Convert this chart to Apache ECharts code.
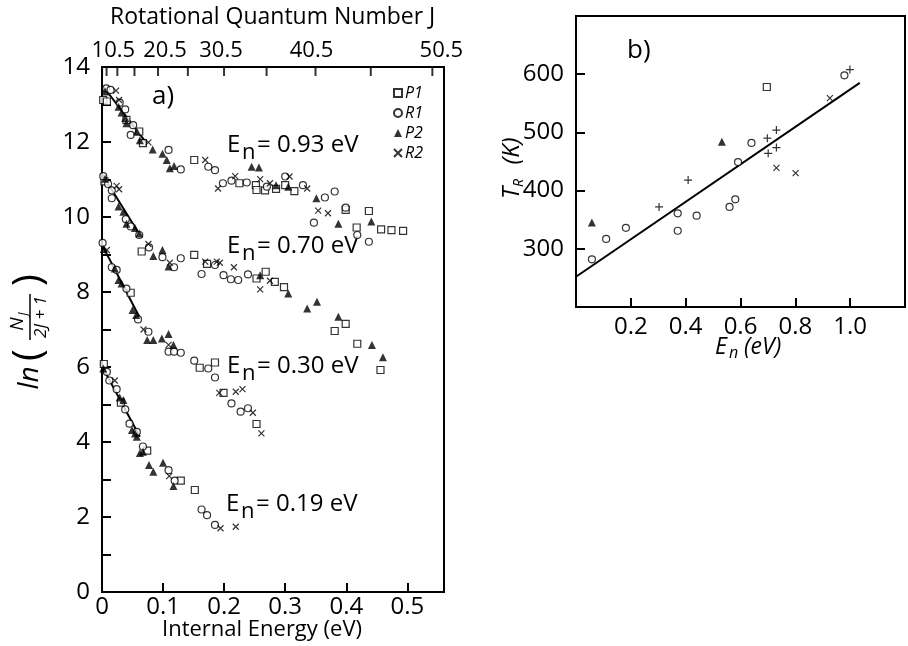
<!DOCTYPE html>
<html><head><meta charset="utf-8">
<script src="https://cdn.jsdelivr.net/npm/echarts@6/dist/echarts.min.js"></script>
<style>html,body{margin:0;padding:0;background:#fff}#c{width:908px;height:646px}</style>
</head><body><div id="c"></div>
<script>
// ---------- Panel a data: [internal energy (eV), ln(NJ/(2J+1))] ----------
const P1 = [
 // En = 0.93 eV
 [0.002,13.12],[0.008,13.08],[0.040,12.59],[0.061,12.28],[0.067,11.97],[0.151,11.52],[0.225,10.90],[0.252,10.85],[0.253,10.72],[0.267,10.71],[0.285,10.75],[0.300,10.85],[0.315,10.69],[0.399,10.19],[0.417,9.72],[0.437,10.16],[0.457,9.67],[0.474,9.65],[0.493,9.63],
 // En = 0.70 eV
 [0.004,10.95],[0.065,9.08],[0.151,8.99],[0.172,8.75],[0.253,8.36],[0.268,8.54],[0.283,8.27],[0.298,8.13],[0.381,6.96],[0.399,7.15],[0.418,6.62],[0.456,5.92],
 // En = 0.30 eV
 [0.047,7.98],[0.160,5.98],[0.185,6.12],[0.199,5.31],[0.253,4.48],
 // En = 0.19 eV
 [0.003,6.08],[0.031,5.05],[0.074,3.77],[0.129,2.97],[0.152,2.72]
];
const R1 = [
 [0.007,13.43],[0.014,13.39],[0.029,13.05],[0.038,12.87],[0.051,12.45],[0.047,12.19],[0.109,11.79],[0.129,11.27],[0.174,11.34],[0.185,11.25],[0.198,10.90],[0.212,10.97],[0.237,10.92],[0.270,10.81],[0.300,11.08],[0.329,10.85],[0.365,10.52],[0.381,10.68],[0.347,9.85],[0.399,10.25],[0.418,9.52],[0.437,9.34],
 [0.002,11.09],[0.010,10.88],[0.016,10.71],[0.016,10.50],[0.039,9.94],[0.047,9.75],[0.061,9.52],[0.077,9.19],[0.099,8.93],[0.118,8.66],[0.129,8.90],[0.163,8.48],[0.185,8.72],[0.199,8.45],[0.211,8.34],[0.223,8.32],[0.239,8.47],
 [0.001,9.31],[0.016,8.66],[0.024,8.59],[0.040,8.09],[0.059,7.27],[0.076,6.94],[0.109,6.41],[0.118,6.41],[0.129,6.38],[0.151,6.17],[0.174,5.96],[0.185,5.72],[0.212,5.03],[0.227,4.81],[0.239,4.90],
 [0.008,5.87],[0.012,5.64],[0.024,5.41],[0.038,4.87],[0.045,4.49],[0.057,4.27],[0.067,3.88],[0.109,3.25],[0.119,2.97],[0.163,2.20],[0.172,2.05],[0.185,1.79]
];
const P2 = [
 [0.005,13.35],[0.027,12.94],[0.032,12.79],[0.038,12.64],[0.040,12.50],[0.057,12.28],[0.062,12.05],[0.083,11.80],[0.099,11.69],[0.106,11.52],[0.111,11.30],[0.118,11.36],[0.245,11.34],[0.257,11.32],[0.285,10.85],[0.305,10.81],[0.351,10.50],[0.387,9.82],[0.441,9.88],
 [0.005,11.02],[0.027,10.28],[0.035,10.14],[0.040,9.82],[0.054,9.71],[0.061,9.56],[0.084,8.96],[0.099,9.12],[0.109,8.68],[0.259,8.45],[0.305,7.96],[0.336,7.56],[0.352,7.74],[0.387,7.34],[0.442,6.59],[0.460,6.26],
 [0.003,9.15],[0.021,8.63],[0.027,8.32],[0.032,8.23],[0.050,7.52],[0.056,7.39],[0.074,6.72],[0.084,6.72],[0.098,6.76],[0.109,6.88],[0.117,6.59],
 [0.002,5.96],[0.029,5.19],[0.035,5.12],[0.049,4.32],[0.054,4.23],[0.057,4.14],[0.062,3.71],[0.067,3.74],[0.077,3.39],[0.084,3.21],[0.100,3.45],[0.117,2.83]
];
const R2 = [
 [0.023,13.37],[0.028,13.12],[0.076,11.99],[0.169,11.52],[0.190,10.76],[0.218,11.09],[0.259,11.01],[0.275,10.90],[0.307,11.08],[0.336,10.76],[0.354,10.17],[0.370,10.10],
 [0.024,10.83],[0.028,10.74],[0.076,9.28],[0.111,8.78],[0.169,8.81],[0.188,8.81],[0.193,8.78],[0.216,8.66],[0.259,8.07],[0.275,8.30],
 [0.008,9.12],[0.068,7.00],[0.109,6.59],[0.192,5.31],[0.219,5.34],[0.230,5.41],[0.247,4.78],[0.261,4.23],
 [0.021,5.64],[0.110,3.09],[0.194,1.70],[0.219,1.74]
];
// straight-line fits of the low-J part of each distribution
const fit093 = [[0.002,13.48],[0.073,11.97]];
const fit070 = [[0.001,11.12],[0.062,9.52]];
const fit030 = [[0.001,9.23],[0.061,7.34]];
const fit019 = [[0.001,5.99],[0.062,4.14]];
const energyLabels = ['0.93','0.70','0.30','0.19'];

// top axis: rotational quantum number J (E = B J(J+1))
const B_eV = 2.08e-4;
const jTickValues = [0.5,5.5,10.5,15.5,20.5,25.5,30.5,35.5,40.5,45.5,50.5];
const jLabelValues = [10.5,20.5,30.5,40.5,50.5];
const jLabelShift = {'10.5':-4, '20.5':7, '30.5':-3, '40.5':-4, '50.5':9};

// ---------- Panel b data: [En (eV), T_R (K)] ----------
const bCircle = [[0.058,282],[0.110,317],[0.182,336],[0.371,361],[0.371,331],[0.440,357],[0.560,372],[0.581,385],[0.591,449],[0.640,482],[0.979,598]];
const bTriangle = [[0.058,345],[0.532,484]];
const bSquare = [[0.696,578]];
const bPlus = [[0.303,372],[0.409,418],[0.698,490],[0.701,464],[0.731,504],[0.731,474],[0.999,608]];
const bCross = [[0.731,439],[0.801,430],[0.926,559]];
const bFit = [[0,252],[1.035,585]];

const FONT = '"Open Sans", "Noto Sans", sans-serif';
const CROSS = 'path://M0,0L10,10M10,0L0,10';
const PLUS = 'path://M5,0L5,10M0,5L10,5';
const J2E = J => B_eV * J * (J + 1);
const E2J = E => (-1 + Math.sqrt(1 + 4 * E / B_eV)) / 2;

const open = {color:'#fff', borderColor:'#000', borderWidth:1.2};
const filled = {color:'#000'};
const stroke = {color:'transparent', borderColor:'#000', borderWidth:1.2};

function sc(name, data, symbol, size, style, xi, yi){
  return {type:'scatter', name, data, symbol, symbolSize:size, itemStyle:style,
    xAxisIndex:xi, yAxisIndex:yi, z:3, animation:false, emphasis:{disabled:true}};
}
function ln(data, xi, yi){
  return {type:'line', data, xAxisIndex:xi, yAxisIndex:yi, symbol:'none',
    lineStyle:{color:'#000', width:2}, z:2, animation:false, silent:true};
}

const axisLbl = {color:'#000', fontFamily:FONT, fontSize:24};

function enLabel(x, y, val){
  return [
    {type:'text', left:x, top:y, style:{text:'E', font:'24px '+FONT, fill:'#000'}},
    {type:'text', left:x+15, top:y+9, style:{text:'n', font:'22px '+FONT, fill:'#000'}},
    {type:'text', left:x+30, top:y, style:{text:'= '+val+' eV', font:'24px '+FONT, fill:'#000'}}
  ];
}

// rich styles for shifting top labels
const topRich = {};
for (const k in jLabelShift) {
  const s = jLabelShift[k];
  topRich['j' + k.replace('.', '_')] = {fontFamily:FONT, fontSize:22, color:'#000',
    padding: s >= 0 ? [0,0,0,2*s] : [0,-2*s,0,0]};
}

const chart = echarts.init(document.getElementById('c'), null, {renderer:'canvas'});
chart.setOption({
  backgroundColor:'#fff',
  animation:false,
  grid:[
    {left:102, top:67, width:342, height:525, show:true, borderColor:'#000', borderWidth:2, backgroundColor:'transparent'},
    {left:576, top:16, width:342, height:291, show:true, borderColor:'#000', borderWidth:2, backgroundColor:'transparent'}
  ],
  xAxis:[
    {gridIndex:0, type:'value', min:0, max:0.56, interval:0.1,
     axisLine:{show:true, lineStyle:{color:'#000', width:2}},
     axisTick:{show:true, inside:true, length:9, lineStyle:{color:'#000', width:2}},
     splitLine:{show:false},
     axisLabel:{...axisLbl, margin:3, showMaxLabel:false,
       formatter:v => (Math.abs(v-Math.round(v*10)/10)<1e-6 && v<=0.5001) ? (v===0?'0':v.toFixed(1)) : ''}},
    {gridIndex:0, type:'value', position:'top', min:0, max:0.56,
     axisLine:{show:true, lineStyle:{color:'#000', width:2}},
     axisTick:{show:false},
     splitLine:{show:false},
     axisLabel:{...axisLbl, fontSize:22, margin:5, hideOverlap:false, showMinLabel:true, showMaxLabel:true,
       customValues: jLabelValues.map(J2E), rich: topRich,
       formatter:v => { const j = E2J(v).toFixed(1); return '{j' + j.replace('.', '_') + '|' + j + '}'; }}},
    {gridIndex:1, type:'value', min:0, max:1.2, interval:0.2,
     axisLine:{show:true, lineStyle:{color:'#000', width:2}},
     axisTick:{show:true, inside:true, length:9, lineStyle:{color:'#000', width:2}},
     splitLine:{show:false},
     axisLabel:{...axisLbl, margin:8, formatter:v => (v>0.01 && v<1.1) ? v.toFixed(1) : ''}}
  ],
  yAxis:[
    {gridIndex:0, type:'value', min:0, max:14, interval:1,
     axisLine:{show:true, lineStyle:{color:'#000', width:2}},
     axisTick:{show:true, inside:true, length:9, lineStyle:{color:'#000', width:2}},
     splitLine:{show:false},
     axisLabel:{...axisLbl, margin:12, formatter:v => (v % 2 === 0) ? String(v) : ''}},
    {gridIndex:1, type:'value', min:200, max:700, interval:100,
     axisLine:{show:true, lineStyle:{color:'#000', width:2}},
     axisTick:{show:true, inside:true, length:9, lineStyle:{color:'#000', width:2}},
     splitLine:{show:false},
     axisLabel:{...axisLbl, margin:12, formatter:v => (v>=300 && v<=600) ? String(v) : ''}}
  ],
  legend:{data:['P1','R1','P2','R2'], orient:'vertical', left:388, top:80, itemWidth:8, itemHeight:8, itemGap:4,
    textStyle:{fontFamily:FONT, fontSize:16, fontStyle:'italic', color:'#000', padding:[0,0,0,-2]}, selectedMode:false},
  series:[
    ln(fit093,0,0), ln(fit070,0,0), ln(fit030,0,0), ln(fit019,0,0),
    // tick marks of the top J axis
    {type:'scatter', name:'jticks', data: jTickValues.map(J => [J2E(J), 14]), xAxisIndex:1, yAxisIndex:0,
     symbol:'rect', symbolSize:[2,9], symbolOffset:[0,4.5], itemStyle:{color:'#000'}, clip:false,
     silent:true, z:4, animation:false},
    sc('P1', P1, 'rect', 7, open, 0, 0),
    sc('R1', R1, 'circle', 7, open, 0, 0),
    sc('P2', P2, 'triangle', 8, filled, 0, 0),
    sc('R2', R2, CROSS, 6, stroke, 0, 0),
    ln(bFit,2,1),
    sc('bc', bCircle, 'circle', 7, open, 2, 1),
    sc('bt', bTriangle, 'triangle', 8, filled, 2, 1),
    sc('bs', bSquare, 'rect', 7, open, 2, 1),
    sc('bp', bPlus, PLUS, 8, stroke, 2, 1),
    sc('bx', bCross, CROSS, 6, stroke, 2, 1)
  ],
  graphic:[
    {type:'text', left:110, top:6, style:{text:'Rotational Quantum Number J', font:'23px '+FONT, fill:'#000'}},
    {type:'text', left:162, top:619, style:{text:'Internal Energy (eV)', font:'22px '+FONT, fill:'#000'}},
    {type:'text', left:152, top:84, style:{text:'a)', font:'26px '+FONT, fill:'#000'}},
    {type:'text', left:627, top:38, style:{text:'b)', font:'26px '+FONT, fill:'#000'}},
    ...enLabel(227, 133, energyLabels[0]),
    ...enLabel(227, 234, energyLabels[1]),
    ...enLabel(227, 354, energyLabels[2]),
    ...enLabel(226, 492, energyLabels[3]),
    // y-axis title of panel a: ln(NJ/(2J+1)), rotated
    {type:'group', x:30, y:318, rotation:Math.PI/2, children:[
      {type:'text', x:-60, y:0, style:{text:'ln', font:'italic 28px '+FONT, fill:'#000', textAlign:'center', textVerticalAlign:'middle'}},
      {type:'text', x:-37, y:0, style:{text:'(', font:'40px '+FONT, fill:'#000', textAlign:'center', textVerticalAlign:'middle'}},
      {type:'text', x:-6, y:-12, style:{text:'N', font:'italic 19px '+FONT, fill:'#000', textAlign:'center', textVerticalAlign:'middle'}},
      {type:'text', x:4, y:-7, style:{text:'J', font:'italic 13px '+FONT, fill:'#000', textAlign:'center', textVerticalAlign:'middle'}},
      {type:'line', shape:{x1:-22, y1:0, x2:24, y2:0}, style:{stroke:'#000', lineWidth:1.5}},
      {type:'text', x:1, y:11, style:{text:'2J + 1', font:'italic 17px '+FONT, fill:'#000', textAlign:'center', textVerticalAlign:'middle'}},
      {type:'text', x:38, y:0, style:{text:')', font:'40px '+FONT, fill:'#000', textAlign:'center', textVerticalAlign:'middle'}}
    ]},
    // y-axis title of panel b
    {type:'group', x:512, y:165, rotation:Math.PI/2, children:[
      {type:'text', x:-28, y:0, style:{text:'T', font:'italic 24px '+FONT, fill:'#000', textAlign:'center', textVerticalAlign:'middle'}},
      {type:'text', x:-18, y:7, style:{text:'R', font:'italic 14px '+FONT, fill:'#000', textAlign:'center', textVerticalAlign:'middle'}},
      {type:'text', x:14, y:0, style:{text:'(K)', font:'italic 24px '+FONT, fill:'#000', textAlign:'center', textVerticalAlign:'middle'}}
    ]},
    // x-axis title of panel b
    {type:'text', left:715, top:336, style:{text:'E', font:'italic 23px '+FONT, fill:'#000'}},
    {type:'text', left:729, top:345, style:{text:'n', font:'italic 16px '+FONT, fill:'#000'}},
    {type:'text', left:744, top:336, style:{text:'(eV)', font:'italic 23px '+FONT, fill:'#000'}}
  ]
});
</script></body></html>
